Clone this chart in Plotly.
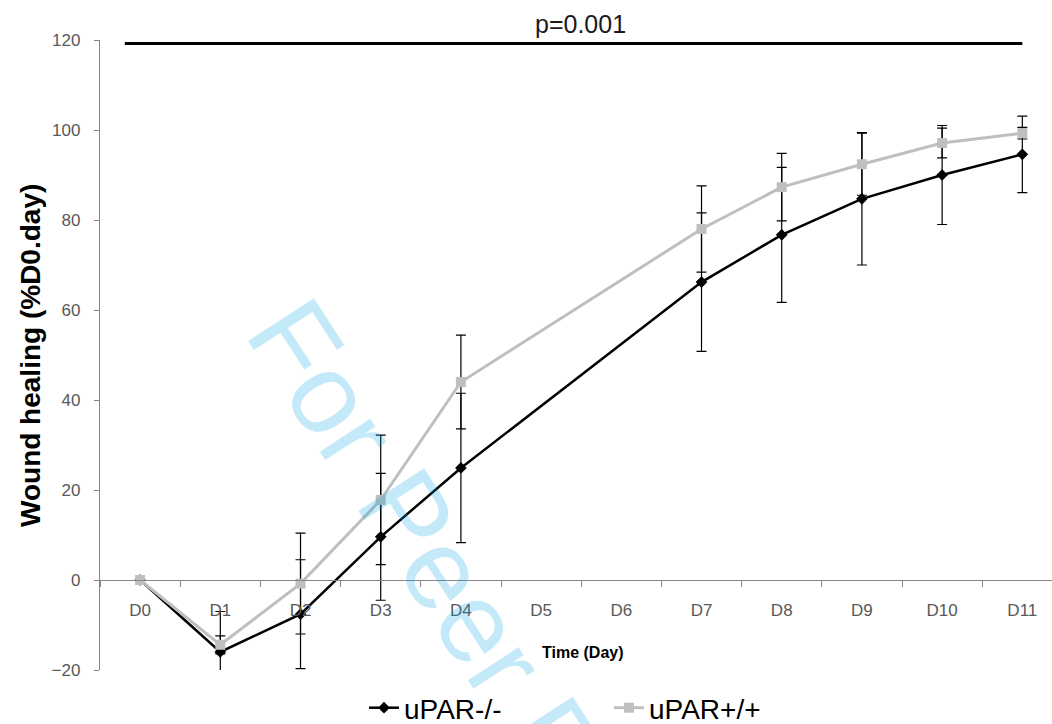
import plotly.graph_objects as go

days = ["D0", "D1", "D2", "D3", "D4", "D5", "D6", "D7", "D8", "D9", "D10", "D11"]
measured_idx = [0, 1, 2, 3, 4, 7, 8, 9, 10, 11]

ko_vals = [0, -16.0, -7.6, 9.6, 24.9, 66.2, 76.7, 84.7, 90.0, 94.6]
ko_err = [0, 9.0, 12.1, 14.1, 16.6, 15.4, 15.0, 14.7, 11.0, 8.5]

wt_vals = [0, -14.4, -0.8, 17.8, 44.0, 78.0, 87.3, 92.4, 97.1, 99.3]
wt_err = [0, 2.0, 11.2, 14.4, 10.4, 9.6, 7.5, 6.9, 3.3, 1.3]

y_ticks = [-20, 0, 20, 40, 60, 80, 100, 120]
p_label = "p=0.001"
p_level = 119.2

W, H = 1052, 724
ML, MR, MT, MB = 100, 0, 40, 54
pw, ph = W - ML - MR, H - MT - MB

def px_x(x):
    return (x - ML) / pw

def px_y(y):
    return (H - MB - y) / ph

FONT = "Liberation Sans, Arial, sans-serif"
GRAY_AX = "#868686"

fig = go.Figure()

fig.add_trace(go.Scatter(
    x=measured_idx, y=ko_vals, name="uPAR-/-", mode="lines+markers",
    line=dict(color="black", width=2.5),
    marker=dict(symbol="diamond", size=9, color="black"),
    error_y=dict(type="data", array=ko_err, visible=True, color="black", thickness=1.2, width=5),
    cliponaxis=True,
))
fig.add_trace(go.Scatter(
    x=measured_idx, y=wt_vals, name="uPAR+/+", mode="lines+markers",
    line=dict(color="#bfbfbf", width=3),
    marker=dict(symbol="square", size=10, color="#bfbfbf"),
    error_y=dict(type="data", array=wt_err, visible=True, color="black", thickness=1.2, width=5),
    cliponaxis=True,
))

fig.add_shape(type="line", xref="x", yref="y", x0=-0.19, x1=11, y0=p_level, y1=p_level,
              line=dict(color="black", width=3))

fig.add_annotation(text=p_label, xref="paper", yref="paper", x=px_x(580), y=px_y(24),
                   showarrow=False, font=dict(family=FONT, size=25, color="#1a1a1a"),
                   xanchor="center", yanchor="middle")

fig.add_annotation(text="<b>Time (Day)</b>", xref="paper", yref="paper", x=px_x(583), y=px_y(652),
                   showarrow=False, font=dict(family=FONT, size=16, color="black"),
                   xanchor="center", yanchor="middle")

fig.add_annotation(text="<b>Wound healing (%D0.day)</b>", xref="paper", yref="paper",
                   x=px_x(30), y=px_y(356), textangle=-90,
                   showarrow=False, font=dict(family=FONT, size=28, color="black"),
                   xanchor="center", yanchor="middle")

fig.add_annotation(text="For Peer Review", xref="paper", yref="paper",
                   x=px_x(508), y=px_y(668), textangle=57,
                   showarrow=False, font=dict(family=FONT, size=114, color="rgba(0,160,230,0.23)"),
                   xanchor="center", yanchor="middle")

fig.update_layout(
    width=W, height=H,
    margin=dict(l=ML, r=MR, t=MT, b=MB, autoexpand=False),
    paper_bgcolor="white", plot_bgcolor="white",
    showlegend=True,
    legend=dict(orientation="h", x=px_x(364), y=px_y(708), xanchor="left", yanchor="middle",
                font=dict(family=FONT, size=28, color="black"), entrywidth=200,
                bgcolor="rgba(0,0,0,0)"),
    xaxis=dict(
        range=[-0.5, 11.37], tickvals=list(range(len(days))), ticktext=days,
        showgrid=False, zeroline=False, showline=True, linecolor=GRAY_AX, linewidth=1.3,
        anchor="free", position=20 / 140,
        ticks="outside", ticklen=14, tickcolor="rgba(0,0,0,0)",
        tickfont=dict(family=FONT, size=17, color="#595959"),
        minor=dict(tickvals=[i - 0.5 for i in range(len(days) + 1)], ticks="outside",
                   ticklen=6, tickcolor=GRAY_AX, tickwidth=1.3, showgrid=False),
    ),
    yaxis=dict(
        range=[-20, 120], tickvals=y_ticks, showgrid=False, zeroline=False,
        showline=True, linecolor=GRAY_AX, linewidth=1.3,
        ticks="outside", ticklen=5, tickcolor=GRAY_AX, tickwidth=1.3,
        tickfont=dict(family=FONT, size=17, color="#595959"),
        ticklabelstandoff=10,
    ),
)

fig.write_html("out.html")
